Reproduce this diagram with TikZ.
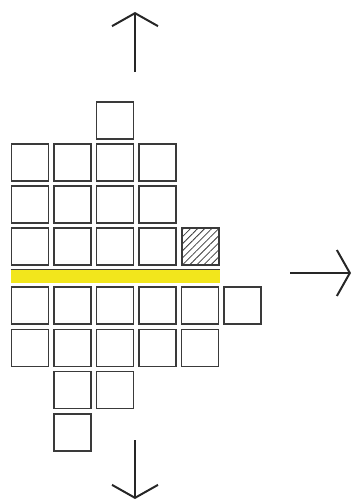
\documentclass[tikz,border=0pt]{standalone}
\usepackage{tikz}
\usetikzlibrary{arrows.meta, positioning, patterns.meta}
\usepackage{xcolor}
\definecolor{Pencil}{HTML}{3A3A3A}
\definecolor{Marker}{HTML}{F2E61C}

\begin{document}
\begin{tikzpicture}[
            x=1pt, y=-1pt,
            cell/.style={
                rectangle,
                draw=Pencil,
                line width=1.25pt,
                minimum size=37pt,
                inner sep=0pt
            },
            hatchcell/.style={
                cell,
                pattern={Lines[angle=45, distance=5pt, line width=0.8pt]},
                pattern color=Pencil
            },
            bar/.style={
                rectangle,
                fill=Marker,
                minimum width=209pt,
                minimum height=13pt,
                inner sep=0pt
            },
            arrow/.style={-{Straight Barb[length=13pt, width=46pt]}, line width=2pt, color=black!85}
        ]
            \useasboundingbox (0,0) rectangle (353,504);

            % Upper block
            \node[cell] (u13) at (115,120.5) {};
            \foreach \r/\y in {2/162.5, 3/204.5, 4/246.5}
                \foreach \c in {1,...,4}
                    \node[cell] (u\r\c) at ({30+42.5*(\c-1)}, \y) {};
            \node[hatchcell, right=5pt of u44] (lost) {};

            % Marker line
            \node[bar] (cut) at (115.5,276.5) {};
            \draw[Pencil, line width=0.7pt] (cut.north west) -- (cut.north east);

            % Lower block
            \foreach \c in {1,...,6}
                \node[cell] (l5\c) at ({30+42.5*(\c-1)}, 305.5) {};
            \foreach \c in {1,...,5}
                \node[cell] (l6\c) at ({30+42.5*(\c-1)}, 347.8) {};
            \node[cell] (l72) at (72.5,390.1) {};
            \node[cell] (l73) at (115,390.1) {};
            \node[cell] (l82) at (72.5,432.4) {};

            % Directions
            \coordinate (upfrom) at (135,72);
            \coordinate (upto) at (135,12);
            \coordinate (rightfrom) at (290,273);
            \coordinate (rightto) at (351,273);
            \coordinate (downfrom) at (135,440);
            \coordinate (downto) at (135,499);
            \draw[arrow] (upfrom) -- (upto);
            \draw[arrow] (rightfrom) -- (rightto);
            \draw[arrow] (downfrom) -- (downto);
        \end{tikzpicture}
\end{document}
